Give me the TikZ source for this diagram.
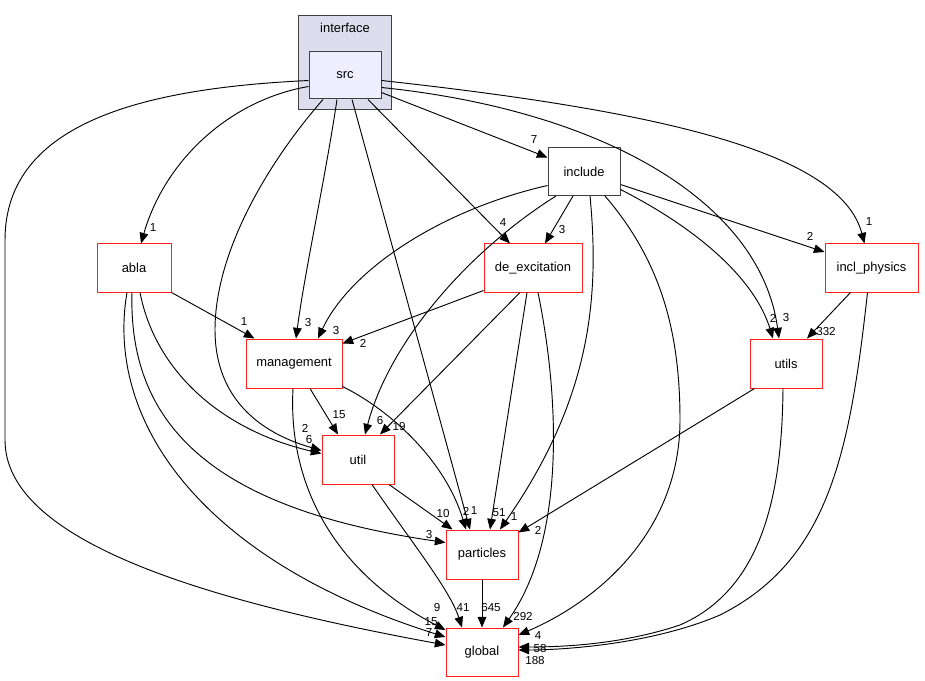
\documentclass[tikz,border=0pt]{standalone}
\usepackage{fontspec}
\setmainfont{Liberation Sans}
\usetikzlibrary{positioning, arrows.meta, calc}
\definecolor{clusterfill}{HTML}{DDDDEE}
\definecolor{srcfill}{HTML}{EEEEFF}
\definecolor{dirred}{HTML}{FF2020}
\definecolor{darkline}{HTML}{404040}

\begin{document}
\begin{tikzpicture}[
    x=0.75pt, y=-0.75pt,
    >={Triangle[length=8pt,width=6.5pt]},
    % -------------------------------------------------
    % Node styles
    % -------------------------------------------------
    component/.style={
        rectangle,
        draw=dirred,
        line width=0.75pt,
        fill=white,
        minimum width=54pt,
        minimum height=36pt,
        inner sep=0pt,
        font=\fontsize{9.7}{11}\selectfont
    },
    plaindir/.style={
        component,
        draw=darkline
    },
    srcdir/.style={
        component,
        draw=darkline,
        fill=srcfill,
        minimum height=35.25pt
    },
    cluster/.style={
        rectangle,
        draw=darkline,
        line width=0.75pt,
        fill=clusterfill,
        minimum width=69.75pt,
        minimum height=70.5pt
    },
    clustertitle/.style={
        font=\fontsize{9.7}{11}\selectfont,
        inner sep=0pt
    },
    % -------------------------------------------------
    % Connections
    % -------------------------------------------------
    arrow/.style={
        ->,
        line width=0.7pt,
        draw=black
    },
    edgelabel/.style={
        font=\fontsize{8.7}{10}\selectfont,
        inner sep=0pt
    }
]

\useasboundingbox (0,0) rectangle (925,681);

% =====================================================
% Interface cluster
% =====================================================

\node[cluster] (interface) at (344.5,63) {};
\node[clustertitle] (interfacetitle) at (345,28) {interface};
\node[srcdir] (src) at (345,75.5) {src};

% =====================================================
% Directories
% =====================================================

\node[plaindir] (include) at (584,171.5) {include};

\node[component, minimum width=55.5pt] (abla) at (134,268) {abla};

\node[component, minimum width=73.5pt] (dex) at (533,268) {de\_excitation};

\node[component, minimum width=69.75pt] (incl) at (871.5,268) {incl\_physics};

\node[component, minimum width=72pt, minimum height=36.75pt] (management) at (294,363.5) {management};

\node[component, minimum height=36.75pt] (utils) at (786,363.5) {utils};

\node[component, minimum height=36.75pt] (util) at (358,459.5) {util};

\node[component, minimum height=36.75pt] (particles) at (482,554.5) {particles};

\node[component, below=36pt of particles] (global) {global};

% =====================================================
% src
% =====================================================

\draw[arrow]
    ($(src.west)+(0,5)$) .. controls (150,88) and (5,120) .. (5,240)
    -- (5,440) .. controls (5,540) and (200,600) .. ($(global.west)+(0,-7)$)
    node[edgelabel] at (429,633) {7};

\draw[arrow]
    ($(src.west)+(0,11)$) .. controls (230,100) and (165,160) .. ($(abla.north)+(7,0)$)
    node[edgelabel] at (153,228) {1};

\draw[arrow]
    ($(src.south)+(-22,0)$) .. controls (270,160) and (215,250) .. (215,330)
    .. controls (215,390) and (250,430) .. ($(util.west)+(0,-9)$)
    node[edgelabel] at (305,428) {2};

\draw[arrow]
    ($(src.south)+(-8,0)$) .. controls (325,180) and (305,270) .. ($(management.north)+(2,0)$)
    node[edgelabel] at (308,323) {3};

\draw[arrow]
    ($(src.south)+(7,0)$) -- ($(particles.north)+(-12,0)$)
    node[edgelabel] at (466,511) {2};

\draw[arrow]
    ($(src.south)+(23,0)$) -- ($(dex.north)+(-23,0)$)
    node[edgelabel] at (503,223) {4};

\draw[arrow]
    ($(src.east)+(0,17)$) -- ($(include.west)+(0,-14)$)
    node[edgelabel] at (534,140) {7};

\draw[arrow]
    ($(src.east)+(0,12)$) .. controls (600,110) and (760,200) .. ($(utils.north)+(-7,0)$)
    node[edgelabel] at (786,318) {3};

\draw[arrow]
    ($(src.east)+(0,5)$) .. controls (650,110) and (840,150) .. ($(incl.north)+(-7,0)$)
    node[edgelabel] at (869,222) {1};

% =====================================================
% include
% =====================================================

\draw[arrow]
    ($(include.west)+(0,14)$) .. controls (440,210) and (350,270) .. ($(management.north)+(24,0)$)
    node[edgelabel] at (336,331) {3};

\draw[arrow]
    ($(include.south)+(-28,0)$) .. controls (470,250) and (390,340) .. ($(util.north)+(7,0)$)
    node[edgelabel] at (380,421) {6};

\draw[arrow]
    ($(include.south)+(-11,0)$) -- ($(dex.north)+(12,0)$)
    node[edgelabel] at (562,230) {3};

\draw[arrow]
    ($(include.south)+(6,0)$) .. controls (600,300) and (590,400) .. ($(particles.north)+(18,0)$)
    node[edgelabel] at (514,517) {1};

\draw[arrow]
    ($(include.south)+(21,0)$) .. controls (660,260) and (680,330) .. (680,420)
    .. controls (680,530) and (600,600) .. ($(global.east)+(0,-17)$)
    node[edgelabel] at (538,636) {4};

\draw[arrow]
    ($(include.east)+(0,18)$) .. controls (700,230) and (755,280) .. ($(utils.north)+(-13,0)$)
    node[edgelabel] at (773,318) {2};

\draw[arrow]
    ($(include.east)+(0,13)$) -- ($(incl.west)+(0,-16)$)
    node[edgelabel] at (810,236) {2};

% =====================================================
% de_excitation
% =====================================================

\draw[arrow]
    ($(dex.south west)+(0,-2)$) -- ($(management.east)+(0,-20)$)
    node[edgelabel] at (363,343) {2};

\draw[arrow]
    ($(dex.south)+(-13,0)$) -- ($(util.north)+(22,0)$)
    node[edgelabel] at (399,427) {19};

\draw[arrow]
    ($(dex.south)+(-6,0)$) -- ($(particles.north)+(8,0)$)
    node[edgelabel] at (499,513) {51};

\draw[arrow]
    ($(dex.south)+(5,0)$) .. controls (560,400) and (565,540) .. ($(global.north)+(21,0)$)
    node[edgelabel] at (523,617) {292};

% =====================================================
% incl_physics and utils
% =====================================================

\draw[arrow]
    ($(incl.south)+(-21,0)$) -- ($(utils.north)+(21,0)$)
    node[edgelabel] at (826,332) {332};

\draw[arrow]
    ($(incl.south)+(-4,0)$) .. controls (850,450) and (830,560) .. (720,615)
    .. controls (650,645) and (560,650) .. ($(global.east)+(0,-2)$)
    node[edgelabel] at (535,661) {188};

\draw[arrow]
    ($(utils.south west)+(5,0)$) -- ($(particles.east)+(0,-22)$)
    node[edgelabel] at (538,530) {2};

\draw[arrow]
    ($(utils.south)+(-3,0)$) .. controls (782,500) and (760,590) .. (680,625)
    .. controls (620,645) and (560,647) .. ($(global.east)+(0,-5)$)
    node[edgelabel] at (540,649) {58};

% =====================================================
% management
% =====================================================

\draw[arrow]
    ($(management.south)+(16,0)$) -- ($(util.north)+(-20,0)$)
    node[edgelabel] at (339,415) {15};

\draw[arrow]
    ($(management.south east)+(0,-2)$) .. controls (390,410) and (445,460) .. ($(particles.north)+(-16,0)$)
    node[edgelabel] at (474,511) {1};

\draw[arrow]
    ($(management.south)+(-1,0)$) .. controls (288,480) and (330,570) .. ($(global.west)+(0,-22)$)
    node[edgelabel] at (437,608) {9};

% =====================================================
% abla
% =====================================================

\draw[arrow]
    (abla.south east) -- ($(management.north west)+(9,0)$)
    node[edgelabel] at (244,322) {1};

\draw[arrow]
    ($(abla.south)+(6,0)$) .. controls (155,370) and (220,430) .. ($(util.west)+(0,-6)$)
    node[edgelabel] at (309,440) {6};

\draw[arrow]
    ($(abla.south)+(-2,0)$) .. controls (128,430) and (220,510) .. ($(particles.west)+(0,-12)$)
    node[edgelabel] at (429,535) {3};

\draw[arrow]
    ($(abla.south)+(-7,0)$) .. controls (105,420) and (200,560) .. ($(global.west)+(0,-15)$)
    node[edgelabel] at (431,622) {15};

% =====================================================
% util and particles
% =====================================================

\draw[arrow]
    ($(util.south)+(31,0)$) -- ($(particles.north west)+(7,0)$)
    node[edgelabel] at (443,514) {10};

\draw[arrow]
    ($(util.south)+(14,0)$) .. controls (410,540) and (450,590) .. ($(global.north)+(-20,0)$)
    node[edgelabel] at (463,608) {41};

\draw[arrow]
    (particles) -- (global)
    node[edgelabel] at (491,608) {645};

\end{tikzpicture}
\end{document}
